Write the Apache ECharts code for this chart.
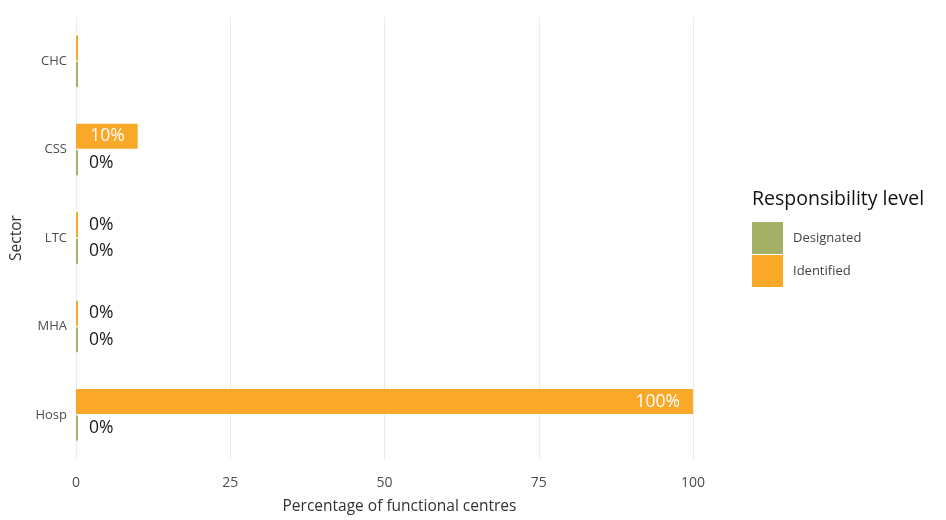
<!DOCTYPE html>
<html><head><meta charset="utf-8">
<script src="https://cdn.jsdelivr.net/npm/echarts@6/dist/echarts.min.js"></script>
<style>html,body{margin:0;padding:0;background:#fff}#c{width:946px;height:520px}</style>
</head><body><div id="c"></div>
<script>
const sectors = ['CHC','CSS','LTC','MHA','Hosp'];
const designated = [0, 0, 0, 0, 0];
const identified = [0, 10, 0, 0, 100];
const designatedLabelShown = [false, true, true, true, true];
const identifiedLabelShown = [false, true, true, true, true];
const xTicks = [0, 25, 50, 75, 100];

const FONT = 'Open Sans';
function mkData(vals, shown){
  return vals.map((v,i)=>({
    value: v,
    label: {
      show: shown[i],
      position: v > 0 ? 'insideRight' : 'right',
      distance: v > 0 ? 13 : 11,
      color: v > 0 ? '#ffffff' : '#1a1a1a',
      fontSize: 17.5, fontFamily: FONT,
      formatter: p => p.value + '%'
    }
  }));
}
const chart = echarts.init(document.getElementById('c'), null, {renderer:'canvas'});
chart.setOption({
  animation: false,
  textStyle: {fontFamily: FONT},
  grid: {left: 76, right: 253, top: 17, bottom: 58, containLabel: false},
  xAxis: {
    type: 'value', min: 0, max: 100, interval: 25,
    axisLine: {show:false}, axisTick: {show:false},
    splitLine: {lineStyle: {color:'#ebebeb', width:1}},
    axisLabel: {color:'#4d4d4d', fontSize:14, fontFamily: FONT, margin: 17},
    name: 'Percentage of functional centres', nameLocation: 'middle', nameGap: 40,
    nameTextStyle: {color:'#333', fontSize:15.5, fontFamily: FONT, padding:[0,0,0,30]}
  },
  yAxis: {
    type: 'category', data: sectors, inverse: true,
    axisLine: {show:false}, axisTick: {show:false},
    axisLabel: {color:'#4d4d4d', fontSize:13, fontFamily: FONT, margin: 9},
    name: 'Sector', nameLocation: 'middle', nameGap: 50, nameRotate: 90,
    nameTextStyle: {color:'#333', fontSize:15.5, fontFamily: FONT}
  },
  legend: {
    orient: 'vertical', left: 747, top: 217,
    data: ['Designated','Identified'],
    itemWidth: 31, itemHeight: 32, itemGap: 1,
    icon: 'rect',
    textStyle: {color:'#444', fontSize:13, fontFamily: FONT, padding:[0,0,0,5]},
    selectedMode: false
  },
  graphic: [{
    type: 'text', left: 752, top: 189,
    style: {text: 'Responsibility level', fill:'#111', fontSize: 19.5, fontFamily: FONT}
  }],
  series: [
    {name:'Identified', type:'bar', data: mkData(identified, identifiedLabelShown),
     itemStyle:{color:'#F9A828'}, barWidth: 25, barGap: '6%', barMinHeight: 2},
    {name:'Designated', type:'bar', data: mkData(designated, designatedLabelShown),
     itemStyle:{color:'#A4B065'}, barWidth: 25, barGap: '6%', barMinHeight: 2}
  ]
});
</script></body></html>
